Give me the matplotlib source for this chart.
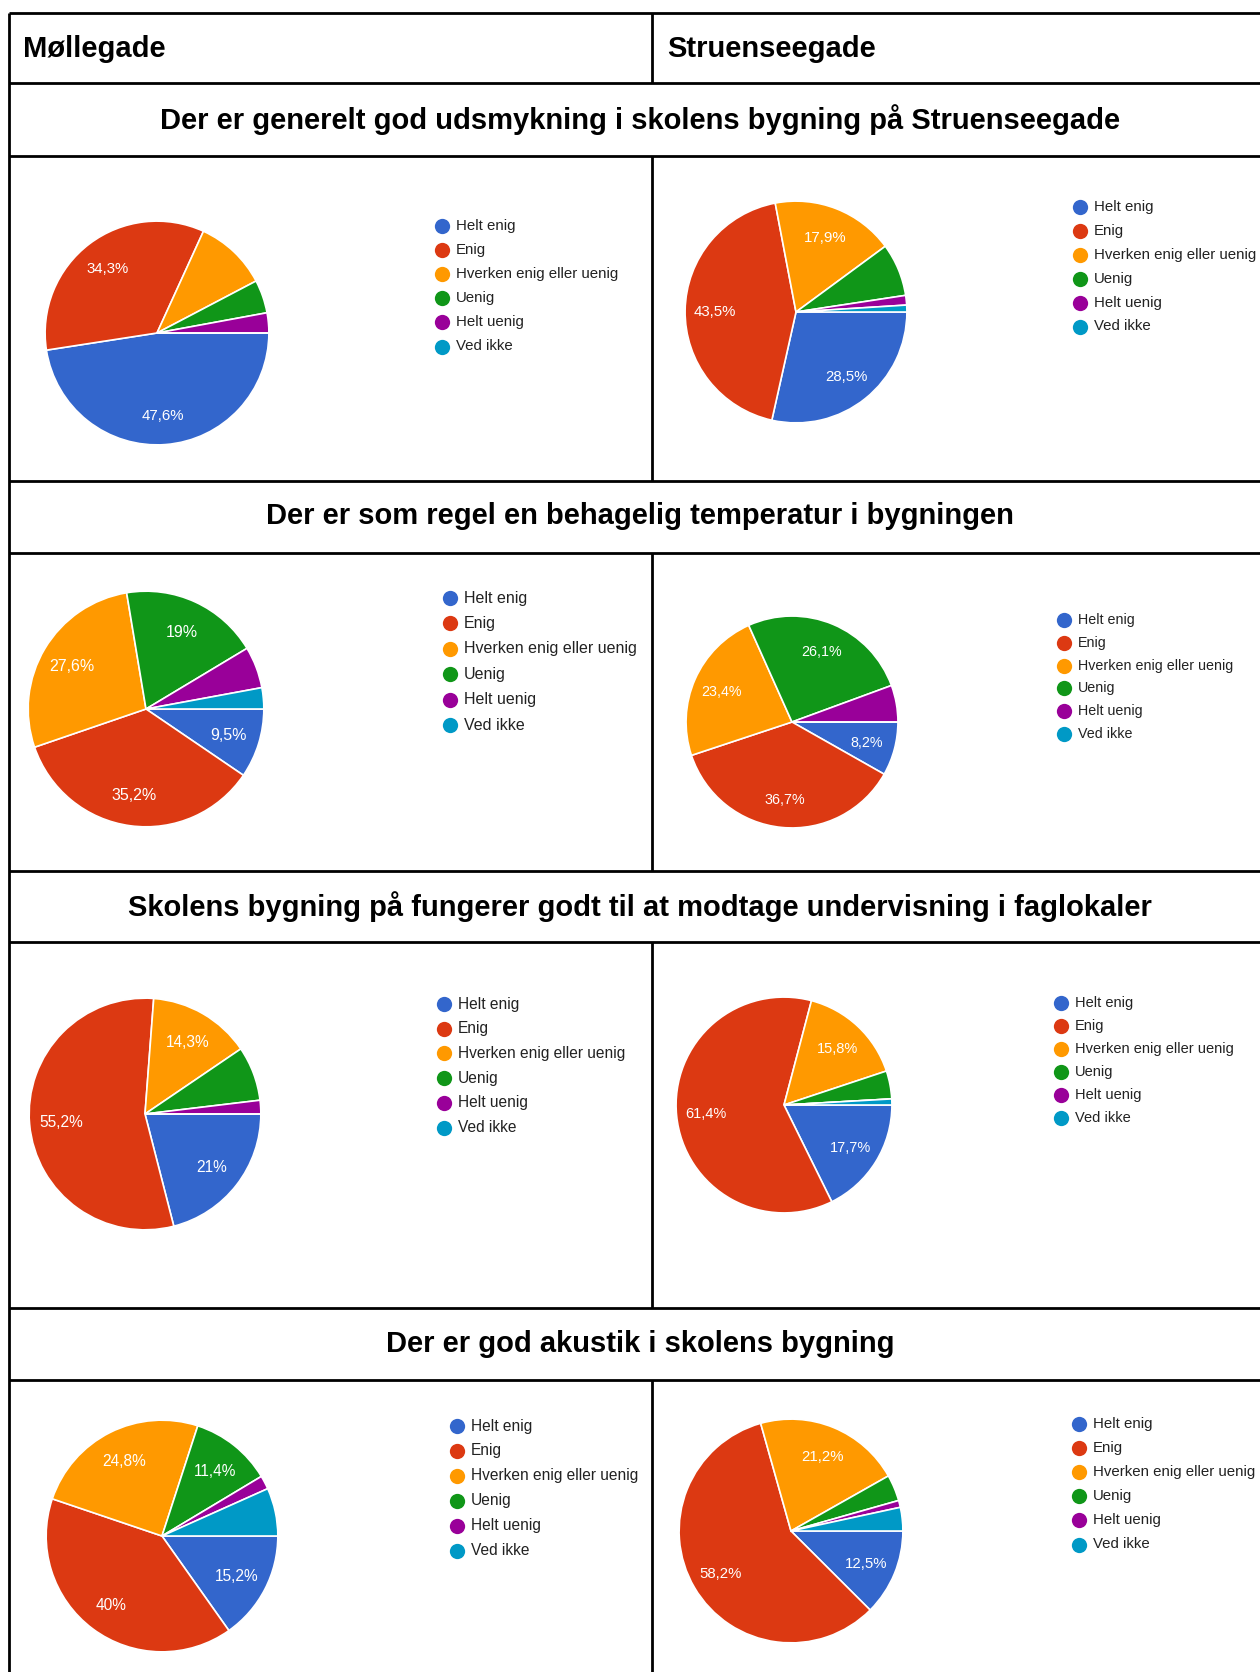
import numpy as np
import matplotlib
matplotlib.use("Agg")
import matplotlib.pyplot as plt

W, H = 1260, 1672
DPI = 100

plt.rcParams["font.family"] = ["Liberation Sans", "DejaVu Sans"]

categories = ["Helt enig", "Enig", "Hverken enig eller uenig", "Uenig", "Helt uenig", "Ved ikke"]
colors = ["#3366cc", "#dc3912", "#ff9900", "#109618", "#990099", "#0099c6"]

schools = ["Møllegade", "Struenseegade"]
questions = [
    "Der er generelt god udsmykning i skolens bygning på Struenseegade",
    "Der er som regel en behagelig temperatur i bygningen",
    "Skolens bygning på fungerer godt til at modtage undervisning i faglokaler",
    "Der er god akustik i skolens bygning",
]

# answer shares in percent, same order as categories
udsmykning_moellegade = [47.6, 34.3, 10.5, 4.8, 2.9, 0.0]
udsmykning_struensee = [28.5, 43.5, 17.9, 7.7, 1.4, 1.0]
temperatur_moellegade = [9.5, 35.2, 27.6, 19.0, 5.7, 2.9]
temperatur_struensee = [8.2, 36.7, 23.4, 26.1, 5.6, 0.0]
faglokaler_moellegade = [21.0, 55.2, 14.3, 7.6, 1.9, 0.0]
faglokaler_struensee = [17.7, 61.4, 15.8, 4.2, 0.0, 0.9]
akustik_moellegade = [15.2, 40.0, 24.8, 11.4, 1.9, 6.7]
akustik_struensee = [12.5, 58.2, 21.2, 3.8, 1.0, 3.4]

# slices that carry a percent label in the original
udsmykning_moellegade_shown = [1, 1, 0, 0, 0, 0]
udsmykning_struensee_shown = [1, 1, 1, 0, 0, 0]
temperatur_moellegade_shown = [1, 1, 1, 1, 0, 0]
temperatur_struensee_shown = [1, 1, 1, 1, 0, 0]
faglokaler_moellegade_shown = [1, 1, 1, 0, 0, 0]
faglokaler_struensee_shown = [1, 1, 1, 0, 0, 0]
akustik_moellegade_shown = [1, 1, 1, 1, 0, 0]
akustik_struensee_shown = [1, 1, 1, 0, 0, 0]

panels = [
    (udsmykning_moellegade, udsmykning_moellegade_shown),
    (udsmykning_struensee, udsmykning_struensee_shown),
    (temperatur_moellegade, temperatur_moellegade_shown),
    (temperatur_struensee, temperatur_struensee_shown),
    (faglokaler_moellegade, faglokaler_moellegade_shown),
    (faglokaler_struensee, faglokaler_struensee_shown),
    (akustik_moellegade, akustik_moellegade_shown),
    (akustik_struensee, akustik_struensee_shown),
]

# pixel layout: pie centre x, y, radius, legend x, first legend row y, row step, font size
geom = [
    (157, 333, 113, 442, 226, 24.1, 10.8),
    (796, 312, 112, 1080, 207, 23.9, 10.8),
    (146, 709, 119, 450, 598, 25.4, 11.5),
    (792, 722, 107, 1064, 620, 22.8, 10.3),
    (145, 1114, 117, 444, 1004, 24.7, 11.2),
    (784, 1105, 109, 1061, 1003, 23.0, 10.5),
    (162, 1536, 117, 457, 1426, 24.9, 11.2),
    (791, 1531, 113, 1079, 1424, 24.1, 10.8),
]

table_left, table_right, table_mid = 9, 1275, 652
table_top = 13
row_lines = [83, 156, 481, 553, 871, 942, 1308, 1380]
title_y = [120, 516, 907, 1344]


def pct_label(v):
    if float(v).is_integer():
        return f"{int(v)}%"
    return f"{v:.1f}%".replace(".", ",")


fig = plt.figure(figsize=(W / DPI, H / DPI), dpi=DPI)
fig.patch.set_facecolor("white")

# table grid and headings
base = fig.add_axes([0, 0, 1, 1])
base.set_xlim(0, W)
base.set_ylim(H, 0)
base.axis("off")

lw = 2.0
base.hlines([table_top] + row_lines, table_left, table_right, color="black", lw=lw)
base.vlines(table_left, table_top, H, color="black", lw=lw)
spans = [(table_top, row_lines[0])]
for i in range(1, len(row_lines), 2):
    end = row_lines[i + 1] if i + 1 < len(row_lines) else H
    spans.append((row_lines[i], end))
for y0, y1 in spans:
    base.vlines(table_mid, y0, y1, color="black", lw=lw)

head_y = (table_top + row_lines[0]) / 2 + 1
base.text(table_left + 14, head_y, schools[0], fontsize=21, fontweight="bold",
          ha="left", va="center")
base.text(table_mid + 15, head_y, schools[1], fontsize=21, fontweight="bold",
          ha="left", va="center")
for q, ty in zip(questions, title_y):
    base.text(640, ty, q, fontsize=21, fontweight="bold", ha="center", va="center")

for (vals, shown), (cx, cy, r, lx, ly, step, fs) in zip(panels, geom):
    ax = fig.add_axes([(cx - r) / W, 1 - (cy + r) / H, 2 * r / W, 2 * r / H])
    wedges, _ = ax.pie(vals, colors=colors, startangle=0, counterclock=False,
                       radius=1, wedgeprops=dict(edgecolor="white", linewidth=1.2))
    ax.set_xlim(-1.01, 1.01)
    ax.set_ylim(-1.01, 1.01)
    for w, v, s in zip(wedges, vals, shown):
        if not s:
            continue
        mid = np.deg2rad((w.theta1 + w.theta2) / 2)
        ax.text(0.73 * np.cos(mid), 0.73 * np.sin(mid), pct_label(v),
                color="white", fontsize=fs, ha="center", va="center_baseline")

    for i, (cat, col) in enumerate(zip(categories, colors)):
        yy = ly + i * step
        base.plot(lx, yy, "o", ms=11, color=col, mec="none")
        base.text(lx + 14, yy, cat, fontsize=fs, color="#222222",
                  ha="left", va="center")

fig.savefig("out.png", dpi=DPI, facecolor="white")
